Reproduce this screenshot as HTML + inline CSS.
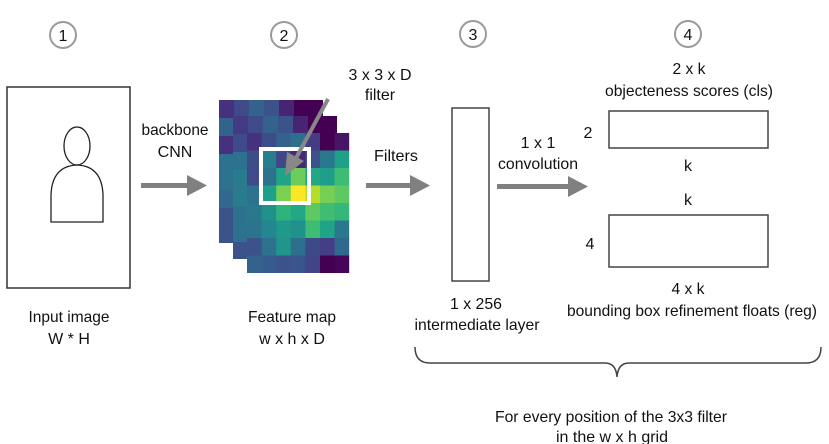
<!DOCTYPE html>
<html><head><meta charset="utf-8"><style>
html,body{margin:0;padding:0;background:#fff;}
svg{display:block;}
text{font-family:"Liberation Sans",sans-serif;font-size:16px;fill:#111;}
</style></head><body>
<svg width="829" height="444" viewBox="0 0 829 444" xmlns="http://www.w3.org/2000/svg">
<g fill="none" stroke="#9a9a9a" stroke-width="2">
<circle cx="63" cy="35" r="13"/><circle cx="284" cy="35" r="13"/><circle cx="473" cy="34" r="13"/><circle cx="688" cy="34" r="13"/>
</g>
<g text-anchor="middle">
<text x="63" y="41">1</text><text x="284" y="41">2</text><text x="473" y="40">3</text><text x="688" y="40">4</text>
</g>
<rect x="7" y="87" width="123" height="201" fill="#fff" stroke="#333" stroke-width="1.5"/>
<ellipse cx="77" cy="146" rx="13" ry="19" fill="none" stroke="#222" stroke-width="1.3"/>
<path d="M51,222 L51,195 Q52,166 77,165 Q102,166 103,195 L103,222 Z" fill="none" stroke="#222" stroke-width="1.3"/>
<g fill="#808080">
<rect x="141" y="183" width="50" height="5"/><polygon points="187,175 207,185.5 187,196"/>
<rect x="366" y="183" width="48" height="5"/><polygon points="410,175 430,185.5 410,196"/>
<rect x="497" y="184" width="75" height="5"/><polygon points="568,176 588,186.5 568,197"/>
</g>
<text x="175" y="135" text-anchor="middle" textLength="67" lengthAdjust="spacingAndGlyphs">backbone</text>
<text x="175" y="157" text-anchor="middle">CNN</text>
<text x="396" y="161" text-anchor="middle" textLength="44" lengthAdjust="spacingAndGlyphs">Filters</text>
<rect x="219" y="100" width="104" height="143" fill="#3b528b"/>
<rect x="219" y="100" width="15" height="18" fill="#46317e"/><rect x="234" y="100" width="15" height="18" fill="#3e4a89"/><rect x="249" y="100" width="15" height="18" fill="#33638d"/><rect x="264" y="100" width="15" height="18" fill="#3b528b"/><rect x="279" y="100" width="15" height="18" fill="#482475"/><rect x="294" y="100" width="29" height="18" fill="#440154"/>
<rect x="219" y="118" width="15" height="18" fill="#33638d"/><rect x="219" y="136" width="15" height="18" fill="#46317e"/><rect x="219" y="154" width="15" height="36" fill="#2c728e"/><rect x="219" y="190" width="15" height="18" fill="#31688e"/><rect x="219" y="208" width="15" height="35" fill="#3b528b"/>
<rect x="233" y="116" width="104" height="143" fill="#3b528b"/>
<rect x="233" y="116" width="15" height="18" fill="#443a83"/><rect x="248" y="116" width="15" height="18" fill="#3e4a89"/><rect x="263" y="116" width="15" height="18" fill="#33638d"/><rect x="278" y="116" width="15" height="18" fill="#3b528b"/><rect x="293" y="116" width="15" height="18" fill="#482475"/><rect x="308" y="116" width="29" height="18" fill="#440154"/>
<rect x="233" y="134" width="15" height="18" fill="#3e4a89"/><rect x="233" y="152" width="15" height="18" fill="#2c728e"/><rect x="233" y="170" width="15" height="36" fill="#287c8e"/><rect x="233" y="206" width="15" height="36" fill="#2c728e"/><rect x="233" y="242" width="15" height="17" fill="#3b528b"/>
<g transform="translate(247,133)">
<rect x="0" y="0" width="15" height="18" fill="#46317e"/><rect x="14.6" y="0" width="15" height="18" fill="#3d4b89"/><rect x="29.2" y="0" width="15" height="18" fill="#33638d"/><rect x="43.8" y="0" width="15" height="18" fill="#2d708e"/><rect x="58.4" y="0" width="15" height="18" fill="#433d84"/><rect x="73" y="0" width="15" height="18" fill="#440154"/><rect x="87.6" y="0" width="14.6" height="18" fill="#481467"/>
<rect x="0" y="17.5" width="15" height="18" fill="#3d4d8a"/><rect x="14.6" y="17.5" width="15" height="18" fill="#277f8e"/><rect x="29.2" y="17.5" width="15" height="18" fill="#3f4788"/><rect x="43.8" y="17.5" width="15" height="18" fill="#482777"/><rect x="58.4" y="17.5" width="15" height="18" fill="#3b528b"/><rect x="73" y="17.5" width="15" height="18" fill="#2a788e"/><rect x="87.6" y="17.5" width="14.6" height="18" fill="#1fa187"/>
<rect x="0" y="35" width="15" height="18" fill="#3e4a89"/><rect x="14.6" y="35" width="15" height="18" fill="#2c728e"/><rect x="29.2" y="35" width="15" height="18" fill="#20a386"/><rect x="43.8" y="35" width="15" height="18" fill="#6ccd5a"/><rect x="58.4" y="35" width="15" height="18" fill="#22a884"/><rect x="73" y="35" width="15" height="18" fill="#1f9e89"/><rect x="87.6" y="35" width="14.6" height="18" fill="#3fbc73"/>
<rect x="0" y="52.5" width="15" height="18" fill="#2c718e"/><rect x="14.6" y="52.5" width="15" height="18" fill="#1fa088"/><rect x="29.2" y="52.5" width="15" height="18" fill="#7ad151"/><rect x="43.8" y="52.5" width="15" height="18" fill="#fde725"/><rect x="58.4" y="52.5" width="15" height="18" fill="#b5de2b"/><rect x="73" y="52.5" width="15" height="18" fill="#75d054"/><rect x="87.6" y="52.5" width="14.6" height="18" fill="#5ec962"/>
<rect x="0" y="70" width="15" height="18" fill="#2a788e"/><rect x="14.6" y="70" width="15" height="18" fill="#21918c"/><rect x="29.2" y="70" width="15" height="18" fill="#2eb37c"/><rect x="43.8" y="70" width="15" height="18" fill="#22a884"/><rect x="58.4" y="70" width="15" height="18" fill="#5ec962"/><rect x="73" y="70" width="15" height="18" fill="#40bd72"/><rect x="87.6" y="70" width="14.6" height="18" fill="#35b779"/>
<rect x="0" y="87.5" width="15" height="18" fill="#2c738e"/><rect x="14.6" y="87.5" width="15" height="18" fill="#24868e"/><rect x="29.2" y="87.5" width="15" height="18" fill="#1f9a8a"/><rect x="43.8" y="87.5" width="15" height="18" fill="#21918c"/><rect x="58.4" y="87.5" width="15" height="18" fill="#3fbc73"/><rect x="73" y="87.5" width="15" height="18" fill="#20a386"/><rect x="87.6" y="87.5" width="14.6" height="18" fill="#2a788e"/>
<rect x="0" y="105" width="15" height="18" fill="#3b528b"/><rect x="14.6" y="105" width="15" height="18" fill="#2c728e"/><rect x="29.2" y="105" width="15" height="18" fill="#1f958b"/><rect x="43.8" y="105" width="15" height="18" fill="#2d708e"/><rect x="58.4" y="105" width="15" height="18" fill="#3e4989"/><rect x="73" y="105" width="15" height="18" fill="#433e85"/><rect x="87.6" y="105" width="14.6" height="18" fill="#31688e"/>
<rect x="0" y="122.5" width="15" height="17.5" fill="#33638d"/><rect x="14.6" y="122.5" width="15" height="17.5" fill="#365c8d"/><rect x="29.2" y="122.5" width="15" height="17.5" fill="#3b528b"/><rect x="43.8" y="122.5" width="15" height="17.5" fill="#39568c"/><rect x="58.4" y="122.5" width="15" height="17.5" fill="#414487"/><rect x="73" y="122.5" width="15" height="17.5" fill="#440154"/><rect x="87.6" y="122.5" width="14.6" height="17.5" fill="#450457"/>
</g>
<rect x="261" y="149" width="48" height="54" fill="none" stroke="#fff" stroke-width="4"/>
<line x1="328" y1="99" x2="295" y2="160" stroke="#888" stroke-width="4"/>
<polygon points="285,176 287,152 304,161" fill="#888"/>
<text x="380" y="80" text-anchor="middle" textLength="63" lengthAdjust="spacingAndGlyphs">3 x 3 x D</text>
<text x="380" y="100" text-anchor="middle">filter</text>
<text x="69" y="322" text-anchor="middle" textLength="81" lengthAdjust="spacingAndGlyphs">Input image</text>
<text x="69" y="344" text-anchor="middle">W * H</text>
<text x="292" y="322" text-anchor="middle" textLength="88" lengthAdjust="spacingAndGlyphs">Feature map</text>
<text x="292" y="344" text-anchor="middle">w x h x D</text>
<rect x="452" y="108" width="37" height="173" fill="#fff" stroke="#444" stroke-width="1.5"/>
<text x="476" y="309" text-anchor="middle" textLength="52" lengthAdjust="spacingAndGlyphs">1 x 256</text>
<text x="477" y="330" text-anchor="middle" textLength="125" lengthAdjust="spacingAndGlyphs">intermediate layer</text>
<text x="538" y="148" text-anchor="middle">1 x 1</text>
<text x="538" y="169" text-anchor="middle" textLength="80" lengthAdjust="spacingAndGlyphs">convolution</text>
<rect x="609" y="111" width="159" height="37" fill="#fff" stroke="#444" stroke-width="1.5"/>
<rect x="609" y="215" width="159" height="52" fill="#fff" stroke="#444" stroke-width="1.5"/>
<text x="689" y="74" text-anchor="middle" textLength="33" lengthAdjust="spacingAndGlyphs">2 x k</text>
<text x="689" y="96" text-anchor="middle" textLength="168" lengthAdjust="spacingAndGlyphs">objecteness scores (cls)</text>
<text x="588" y="138" text-anchor="middle">2</text>
<text x="688" y="171" text-anchor="middle">k</text>
<text x="688" y="205" text-anchor="middle">k</text>
<text x="590" y="249" text-anchor="middle">4</text>
<text x="688" y="294" text-anchor="middle" textLength="33" lengthAdjust="spacingAndGlyphs">4 x k</text>
<text x="692" y="316" text-anchor="middle" textLength="250" lengthAdjust="spacingAndGlyphs">bounding box refinement floats (reg)</text>
<path d="M415,347 Q415,363 430,363 L605,363 Q616,363 617,377 Q618,363 629,363 L806,363 Q821,363 821,347" fill="none" stroke="#444" stroke-width="1.5"/>
<text x="611" y="422" text-anchor="middle" textLength="232" lengthAdjust="spacingAndGlyphs">For every position of the 3x3 filter</text>
<text x="612" y="442" text-anchor="middle" textLength="112" lengthAdjust="spacingAndGlyphs">in the w x h grid</text>
</svg>
</body></html>
